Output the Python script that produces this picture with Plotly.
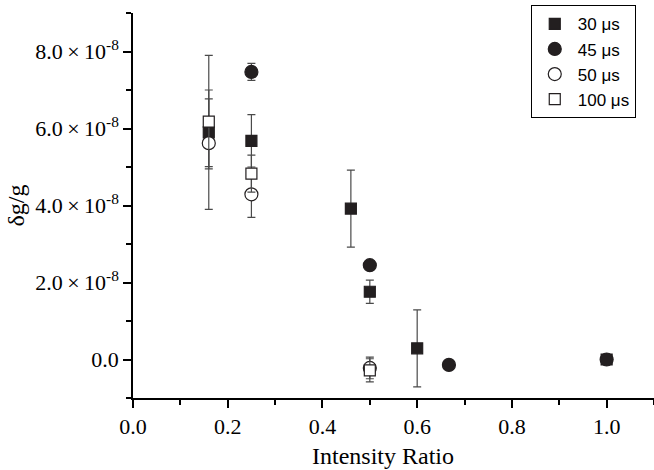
import plotly.graph_objects as go

# ---- data ----
x_30 = [0.16, 0.25, 0.46, 0.50, 0.60, 1.00]
y_30 = [5.90e-8, 5.68e-8, 3.92e-8, 1.76e-8, 0.29e-8, 0.00e-8]
e_30 = [2.00e-8, 0.68e-8, 1.00e-8, 0.30e-8, 1.00e-8, 0.0]

x_45 = [0.25, 0.50, 0.667, 1.00]
y_45 = [7.47e-8, 2.45e-8, -0.14e-8, 0.00e-8]
e_45 = [0.22e-8, 0.0, 0.0, 0.0]

x_50 = [0.16, 0.25, 0.50]
y_50 = [5.62e-8, 4.29e-8, -0.22e-8]
ep_50 = [1.15e-8, 0.60e-8, 0.28e-8]
em_50 = [0.67e-8, 0.60e-8, 0.28e-8]

x_100 = [0.16, 0.25, 0.50]
y_100 = [6.18e-8, 4.83e-8, -0.28e-8]
ep_100 = [0.82e-8, 0.48e-8, 0.30e-8]
em_100 = [1.17e-8, 0.48e-8, 0.30e-8]

names = ["30 \u03bcs", "45 \u03bcs", "50 \u03bcs", "100 \u03bcs"]

y_tickvals = [0.0, 2e-8, 4e-8, 6e-8, 8e-8]
y_ticktext = ["0.0",
              "2.0\u2009\u00d7\u200910<sup>-8</sup>",
              "4.0\u2009\u00d7\u200910<sup>-8</sup>",
              "6.0\u2009\u00d7\u200910<sup>-8</sup>",
              "8.0\u2009\u00d7\u200910<sup>-8</sup>"]
y_minorvals = [-1e-8, 1e-8, 3e-8, 5e-8, 7e-8, 9e-8]

x_title = "Intensity Ratio"
y_title = "\u03b4g/g"

INK = "#231f20"
ERR = "#4a4a4a"

fig = go.Figure()

def add(x, y, ep, em, name, symbol, fill, size):
    fig.add_trace(go.Scatter(
        x=x, y=y, mode="markers", name=name,
        marker=dict(symbol=symbol, size=size, color=fill,
                    line=dict(color=INK, width=1.2)),
        error_y=dict(type="data", array=ep, arrayminus=em, symmetric=False,
                     color=ERR, thickness=1.2, width=4),
    ))

add(x_30, y_30, e_30, e_30, names[0], "square", INK, 11)
add(x_45, y_45, e_45, e_45, names[1], "circle", INK, 13)
add(x_50, y_50, ep_50, em_50, names[2], "circle", "white", 13)
add(x_100, y_100, ep_100, em_100, names[3], "square", "white", 11)

serif = "Liberation Serif"

fig.update_layout(
    width=654, height=470,
    margin=dict(l=133, r=0, t=13, b=72),
    paper_bgcolor="white", plot_bgcolor="white",
    font=dict(family=serif, size=22, color="black"),
    showlegend=True,
    legend=dict(
        x=0.965, y=1.02, xanchor="right", yanchor="top",
        bgcolor="white", bordercolor="black", borderwidth=1,
        font=dict(family="Liberation Sans", size=17, color="black"),
        itemsizing="trace", itemwidth=36, tracegroupgap=0,
    ),
    xaxis=dict(
        range=[0, 1.1], showline=True, linecolor="black", linewidth=1.5,
        showgrid=False, zeroline=False, automargin=False,
        tickmode="linear", tick0=0, dtick=0.2, tickformat=".1f",
        ticks="outside", ticklen=8, tickwidth=1.5, tickcolor="black",
        minor=dict(ticks="outside", tick0=0, dtick=0.1, ticklen=5,
                   tickwidth=1.5, tickcolor="black"),
        tickfont=dict(family=serif, size=22),
    ),
    yaxis=dict(
        range=[-1e-8, 9e-8], showline=True, linecolor="black", linewidth=1.5,
        showgrid=False, zeroline=False, automargin=False,
        tickmode="array", tickvals=y_tickvals, ticktext=y_ticktext,
        ticks="outside", ticklen=8, tickwidth=1.5, tickcolor="black",
        minor=dict(ticks="outside", tickvals=y_minorvals, ticklen=5,
                   tickwidth=1.5, tickcolor="black"),
        title=dict(text=y_title, font=dict(family=serif, size=24), standoff=4),
        tickfont=dict(family=serif, size=22),
    ),
)

fig.add_annotation(
    text=x_title, xref="paper", yref="paper",
    x=(383 - 133) / 521, y=-(456 - 398) / 385,
    xanchor="center", yanchor="middle", showarrow=False,
    font=dict(family=serif, size=24, color="black"),
)

fig.write_html("out.html",
               config={"displayModeBar": False},
               post_script="document.body.style.margin='0px';document.body.style.overflow='hidden';")
